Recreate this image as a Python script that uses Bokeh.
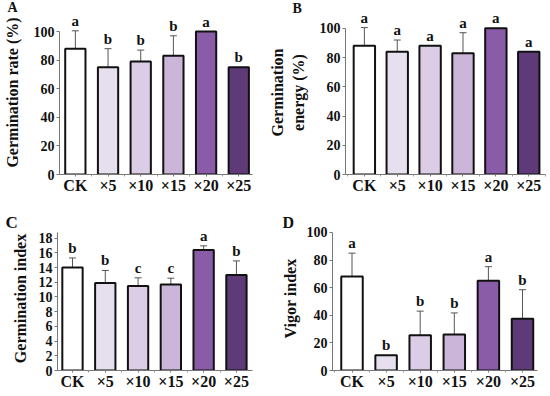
from bokeh.plotting import figure
from bokeh.layouts import column, row
from bokeh.models import ColumnDataSource, Whisker, TeeHead, FixedTicker, Range1d
from bokeh.core.properties import value
from bokeh.embed import file_html
from bokeh.resources import INLINE

categories = ["CK", "×5", "×10", "×15", "×20", "×25"]
bar_colors = ["#ffffff", "#e6e0ee", "#dccde6", "#cbb5d8", "#8a5ca8", "#5e3a78"]

rate_mean = [88, 75, 79, 83, 100, 75]
rate_err = [12.5, 13, 8, 14, 0, 0]
rate_letters = ["a", "b", "b", "b", "a", "b"]

energy_mean = [88, 84, 88, 83, 100, 84]
energy_err = [12.5, 8, 0, 14, 0, 0]
energy_letters = ["a", "a", "a", "a", "a", "a"]

index_mean = [14.0, 11.9, 11.5, 11.7, 16.4, 13.0]
index_err = [1.3, 1.7, 1.1, 0.85, 0.55, 1.9]
index_letters = ["b", "b", "c", "c", "a", "b"]

vigor_mean = [68, 11, 25.5, 26, 65, 37.5]
vigor_err = [17, 0, 17.5, 15.7, 10.2, 21]
vigor_letters = ["a", "b", "b", "b", "a", "b"]

SERIF = "Liberation Serif"


def panel(means, errs, letters, ylabel, yticks, yaxis_top, y_end, x_start, x_end,
          width, height, borders, bar_w, tag, tag_offset, tag_size, tag_standoff,
          tag_valign, label_standoff):
    left, right, top, bottom = borders
    p = figure(width=width, height=height, output_backend="svg", toolbar_location=None,
               x_range=Range1d(x_start, x_end), y_range=Range1d(0, y_end),
               min_border_left=left, min_border_right=right,
               min_border_top=top, min_border_bottom=bottom)
    p.outline_line_color = None
    p.grid.grid_line_color = None
    p.background_fill_color = "white"
    p.border_fill_color = "white"

    p.title.text = tag
    p.title.align = "left"
    p.title.vertical_align = tag_valign
    p.title.offset = tag_offset
    p.title.standoff = tag_standoff
    p.title.text_font = SERIF
    p.title.text_font_style = "bold"
    p.title.text_font_size = tag_size
    p.title.text_color = "#111111"

    xs = list(range(len(categories)))
    src = ColumnDataSource(dict(x=xs, top=means, color=bar_colors))
    p.vbar(x="x", top="top", width=bar_w, bottom=0, source=src,
           fill_color="color", line_color="#111111", line_width=2)

    ex = [x for x, e in zip(xs, errs) if e > 0]
    eu = [m + e for m, e in zip(means, errs) if e > 0]
    el = [m - e for m, e in zip(means, errs) if e > 0]
    esrc = ColumnDataSource(dict(x=ex, upper=eu, lower=el))
    w = Whisker(base="x", upper="upper", lower="lower", source=esrc,
                line_color="#555555", line_width=1,
                upper_head=TeeHead(size=7, line_color="#555555", line_width=1),
                lower_head=TeeHead(size=7, line_color="#555555", line_width=1))
    p.add_layout(w)

    ly = [m + e for m, e in zip(means, errs)]
    lsrc = ColumnDataSource(dict(x=xs, y=ly, t=letters))
    p.text(x="x", y="y", text="t", source=lsrc, text_align="center",
           text_baseline="bottom", y_offset=-2,
           text_font=value(SERIF), text_font_style="bold",
           text_font_size="15px", text_color="#111111")

    p.xaxis.ticker = FixedTicker(ticks=xs, minor_ticks=[x + 0.5 for x in range(-1, 6)])
    p.xaxis.major_label_overrides = {i: c for i, c in enumerate(categories)}
    p.yaxis.ticker = FixedTicker(ticks=yticks)
    p.yaxis.bounds = (0, yaxis_top)
    for ax in (p.xaxis, p.yaxis):
        ax.axis_line_color = "#777777"
        ax.axis_line_width = 1
        ax.major_tick_line_color = "#777777"
        ax.major_tick_out = 3
        ax.major_tick_in = 0
        ax.minor_tick_out = 2
        ax.minor_tick_in = 0
        ax.minor_tick_line_color = "#999999"
        ax.major_label_text_font = SERIF
        ax.major_label_text_font_style = "bold"
        ax.major_label_text_color = "#111111"
    p.yaxis.minor_tick_line_color = None
    p.xaxis.major_tick_out = 2
    p.xaxis.major_label_text_font_size = "16px"
    p.xaxis.major_label_standoff = 0
    p.xaxis.axis_label_standoff = 0
    p.xaxis.axis_label_text_font_size = "0px"
    p.yaxis.major_label_text_font_size = "14px"
    p.yaxis.major_label_standoff = 2
    p.yaxis.axis_label = ylabel
    p.yaxis.axis_label_text_font = SERIF
    p.yaxis.axis_label_text_font_style = "bold"
    p.yaxis.axis_label_text_font_size = "16px"
    p.yaxis.axis_label_text_color = "#111111"
    p.yaxis.axis_label_standoff = label_standoff
    return p


pA = panel(rate_mean, rate_err, rate_letters, "Germination rate (%)",
           [0, 20, 40, 60, 80, 100], 100, 114.7, -0.485, 5.42,
           266, 196, (57, 14, 10, 22), 0.62, "A", -52, "14px", -12, "top", 10)
pB = panel(energy_mean, energy_err, energy_letters, "Germination\nenergy (%)",
           [0, 20, 40, 60, 80, 100], 100, 112.2, -0.574, 5.51,
           284, 196, (72, 5, 8, 22), 0.65, "B", -53, "14px", -14, "top", 10)
pC = panel(index_mean, index_err, index_letters, "Germination index",
           list(range(0, 19, 2)), 18.8, 19.58, -0.457, 5.49,
           266, 200, (57, 14, 26, 26), 0.62, "C", -52, "17px", -10, "bottom", 7)
pD = panel(vigor_mean, vigor_err, vigor_letters, "Vigor index",
           [0, 20, 40, 60, 80, 100], 100, 104.3, -0.572, 5.44,
           284, 200, (66, 13, 30, 25), 0.63, "D", -50, "16px", -9, "bottom", 5)

layout = column(row(pA, pB, spacing=0), row(pC, pD, spacing=0), spacing=0)

open("out.html", "w").write(file_html(layout, INLINE))
